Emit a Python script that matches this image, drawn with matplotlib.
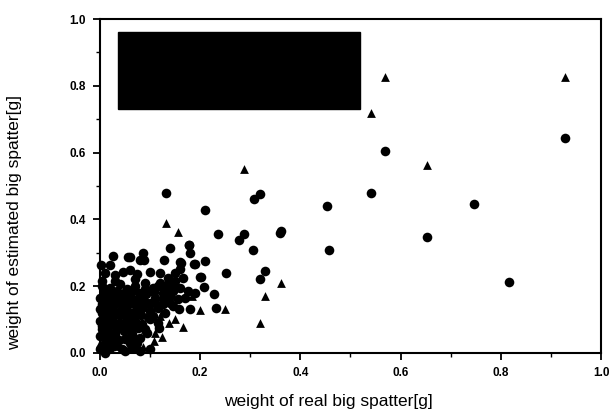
import matplotlib
matplotlib.use("Agg")
import matplotlib.pyplot as plt
from matplotlib.patches import Rectangle

plt.rcParams['font.family'] = ['Liberation Sans', 'DejaVu Sans']

# circles: estimated vs real weight
circ_x = [0.929, 0.568, 0.541, 0.746, 0.453, 0.653, 0.458, 0.817, 0.132, 0.209,
          0.307, 0.319, 0.236, 0.278, 0.287, 0.360, 0.362, 0.305, 0.140, 0.178,
          0.180, 0.251, 0.329, 0.320, 0.231, 0.209, 0.189, 0.201, 0.208, 0.227,
          0.160, 0.127, 0.087, 0.081, 0.060, 0.027,
          0.003, 0.020, 0.057, 0.089, 0.162, 0.177, 0.187,
          0.010, 0.030, 0.047, 0.060, 0.075, 0.100, 0.120, 0.135, 0.150, 0.165, 0.160, 0.200,
          0.005, 0.020, 0.040, 0.055, 0.070, 0.090, 0.100, 0.115, 0.130, 0.145, 0.160, 0.175, 0.190,
          0.000, 0.015, 0.030, 0.045, 0.060, 0.080, 0.095, 0.110, 0.125, 0.140, 0.155, 0.170,
          0.000, 0.010, 0.025, 0.040, 0.055, 0.070, 0.085, 0.100, 0.115, 0.130, 0.157, 0.180, 0.145,
          0.000, 0.012, 0.025, 0.040, 0.055, 0.070, 0.085, 0.100, 0.115, 0.060, 0.035, 0.005,
          0.000, 0.015, 0.030, 0.050, 0.065, 0.080, 0.095, 0.020,
          0.000, 0.010, 0.020, 0.050, 0.065, 0.080, 0.100,
          # extra points in the dense core
          0.008, 0.022, 0.035, 0.048, 0.062, 0.078, 0.092, 0.108,
          0.005, 0.018, 0.032, 0.045, 0.058, 0.072, 0.088, 0.102,
          0.010, 0.025, 0.038, 0.052, 0.066, 0.082, 0.096,
          0.006, 0.020, 0.034, 0.048, 0.062, 0.076, 0.090,
          0.012, 0.028, 0.045, 0.060, 0.075, 0.005, 0.030, 0.070,
          0.120, 0.135, 0.150, 0.110, 0.125, 0.140, 0.105, 0.118,
          0.004, 0.016, 0.028, 0.040, 0.052, 0.064, 0.076,
          0.008, 0.020, 0.032, 0.044, 0.056, 0.068, 0.084,
          0.004, 0.016, 0.028, 0.040, 0.052, 0.064, 0.078,
          0.010, 0.024, 0.038, 0.054, 0.068, 0.090, 0.105, 0.125, 0.145]
circ_y = [0.645, 0.606, 0.478, 0.446, 0.440, 0.348, 0.308, 0.213, 0.478, 0.428,
          0.461, 0.475, 0.356, 0.338, 0.356, 0.360, 0.366, 0.308, 0.315, 0.322,
          0.298, 0.238, 0.245, 0.222, 0.135, 0.276, 0.266, 0.228, 0.198, 0.176,
          0.272, 0.278, 0.298, 0.278, 0.288, 0.290,
          0.262, 0.262, 0.288, 0.278, 0.268, 0.323, 0.266,
          0.240, 0.233, 0.243, 0.248, 0.235, 0.243, 0.238, 0.225, 0.238, 0.225, 0.250, 0.228,
          0.200, 0.195, 0.205, 0.190, 0.200, 0.210, 0.185, 0.200, 0.190, 0.200, 0.195, 0.185, 0.180,
          0.165, 0.155, 0.170, 0.160, 0.170, 0.160, 0.150, 0.165, 0.160, 0.170, 0.160, 0.165,
          0.130, 0.120, 0.135, 0.125, 0.140, 0.120, 0.135, 0.125, 0.135, 0.120, 0.130, 0.130, 0.140,
          0.095, 0.085, 0.100, 0.090, 0.080, 0.095, 0.085, 0.100, 0.090, 0.105, 0.070, 0.070,
          0.050, 0.045, 0.055, 0.040, 0.055, 0.045, 0.060, 0.030,
          0.010, 0.000, 0.015, 0.005, 0.015, 0.005, 0.010,
          0.180, 0.178, 0.185, 0.178, 0.182, 0.180, 0.175, 0.182,
          0.145, 0.140, 0.148, 0.142, 0.150, 0.140, 0.145, 0.148,
          0.110, 0.105, 0.112, 0.108, 0.110, 0.112, 0.108,
          0.065, 0.060, 0.085, 0.065, 0.068, 0.075, 0.070,
          0.025, 0.020, 0.010, 0.030, 0.030, 0.215, 0.215, 0.220,
          0.210, 0.205, 0.215, 0.150, 0.145, 0.150, 0.110, 0.075,
          0.120, 0.125, 0.118, 0.122, 0.125, 0.118, 0.122,
          0.160, 0.165, 0.158, 0.162, 0.165, 0.158, 0.160,
          0.080, 0.078, 0.082, 0.080, 0.078, 0.082, 0.080,
          0.040, 0.042, 0.038, 0.042, 0.040, 0.190, 0.195, 0.180, 0.185]

# triangles
tri_x = [0.569, 0.929, 0.541, 0.653, 0.287, 0.131, 0.156, 0.362, 0.329, 0.320,
         0.250, 0.200, 0.184, 0.180, 0.165, 0.137, 0.123, 0.108, 0.087, 0.073,
         0.050, 0.030, 0.090, 0.120, 0.150, 0.020, 0.070, 0.110, 0.040, 0.000]
tri_y = [0.828, 0.828, 0.720, 0.563, 0.552, 0.388, 0.361, 0.210, 0.170, 0.088,
         0.131, 0.128, 0.170, 0.186, 0.076, 0.088, 0.048, 0.035, 0.018, 0.013,
         0.100, 0.060, 0.070, 0.110, 0.100, 0.120, 0.150, 0.060, 0.020, 0.030]

# black box covering the legend
box_x0, box_x1 = 0.037, 0.519
box_y0, box_y1 = 0.730, 0.960

fig = plt.figure(figsize=(6.09, 4.16), dpi=100)
ax = fig.add_axes([0.164, 0.152, 0.823, 0.802])

ax.scatter(circ_x, circ_y, s=48, marker='o', color='black', linewidths=0, clip_on=False, zorder=3)
ax.scatter(tri_x, tri_y, s=40, marker='^', color='black', linewidths=0, clip_on=False, zorder=3)
ax.add_patch(Rectangle((box_x0, box_y0), box_x1 - box_x0, box_y1 - box_y0,
                       facecolor='black', edgecolor='black', zorder=4))

ax.set_xlim(0, 1)
ax.set_ylim(0, 1)
ax.set_xticks([0, 0.2, 0.4, 0.6, 0.8, 1.0])
ax.set_yticks([0, 0.2, 0.4, 0.6, 0.8, 1.0])
ax.set_xticks([0.1, 0.3, 0.5, 0.7, 0.9], minor=True)
ax.set_yticks([0.1, 0.3, 0.5, 0.7, 0.9], minor=True)
ax.set_xticklabels(['0.0', '0.2', '0.4', '0.6', '0.8', '1.0'], fontweight='bold')
ax.set_yticklabels(['0.0', '0.2', '0.4', '0.6', '0.8', '1.0'], fontweight='bold')
ax.tick_params(which='major', direction='out', length=5, width=1.3, labelsize=8.5, pad=5)
ax.tick_params(which='minor', direction='out', length=3, width=1.0)
for sp in ax.spines.values():
    sp.set_linewidth(1.5)

ax.set_xlabel("weight of real big spatter[g]", fontsize=12.5)
ax.set_ylabel("weight of estimated big spatter[g]", fontsize=12.5)
ax.xaxis.set_label_coords(0.455, -0.125)
ax.yaxis.set_label_coords(-0.155, 0.39)

fig.savefig("out.png", dpi=100)
